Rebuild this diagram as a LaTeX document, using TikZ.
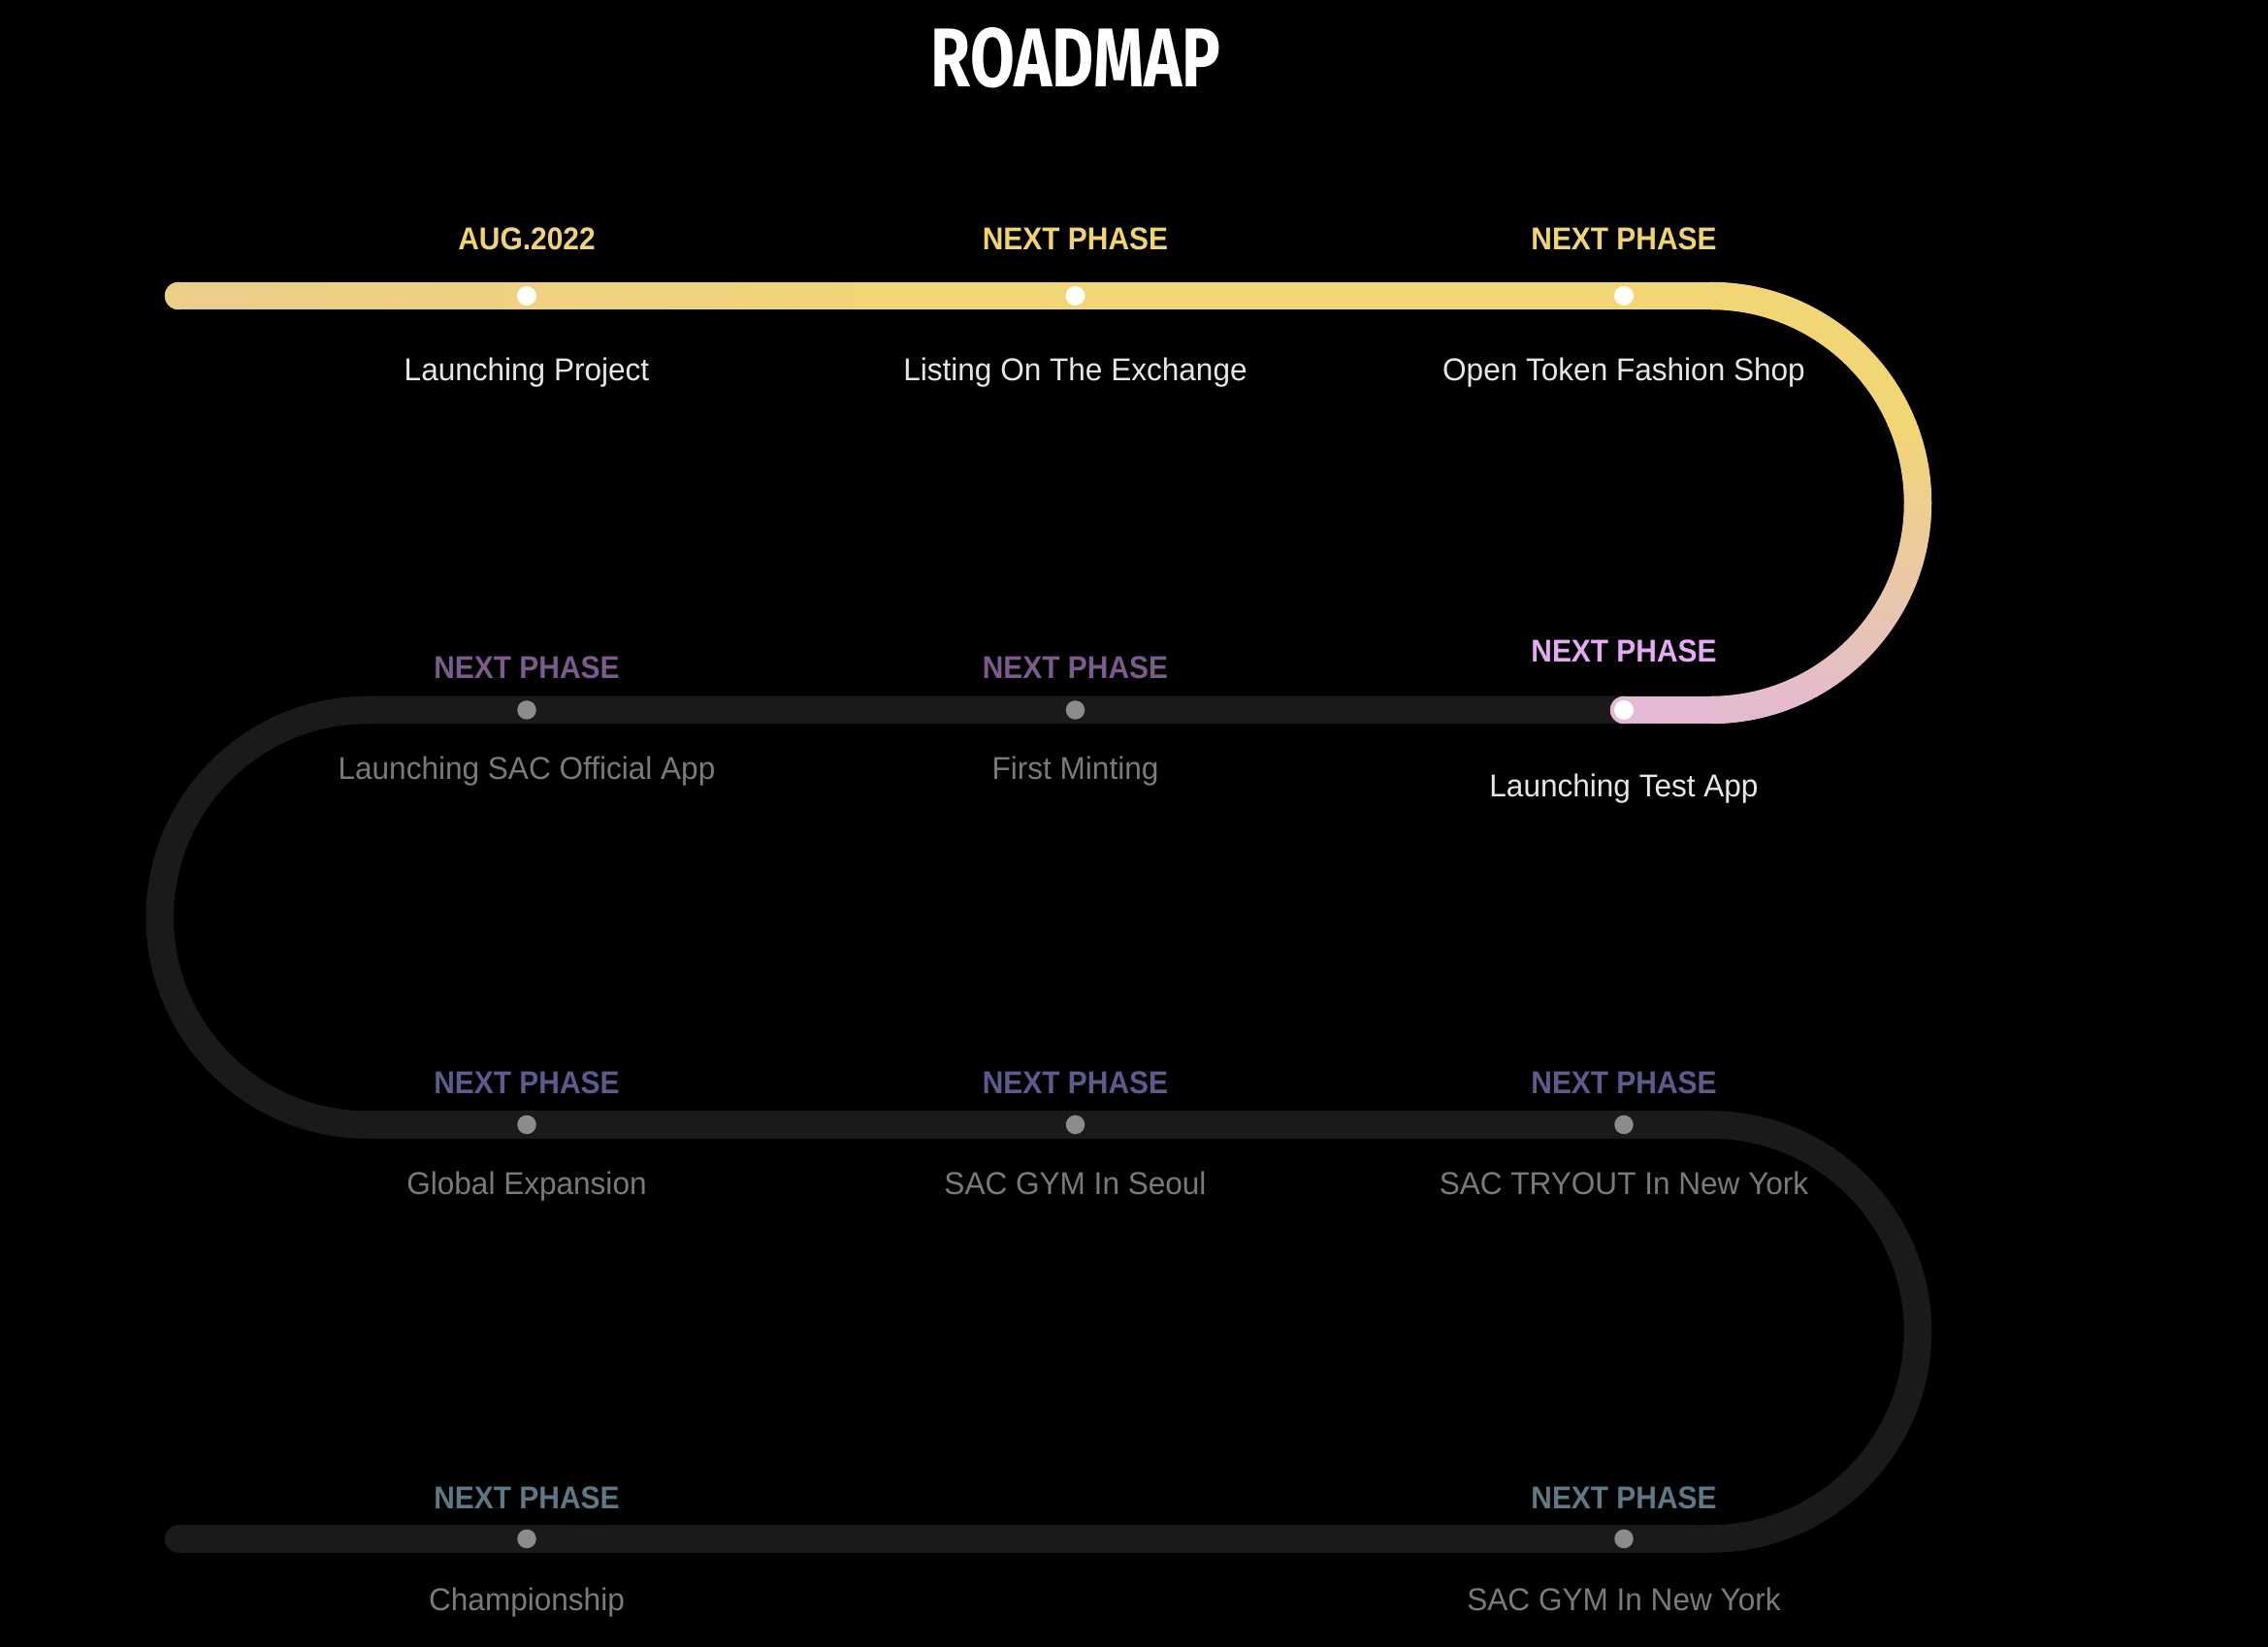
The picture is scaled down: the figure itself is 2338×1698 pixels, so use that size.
\documentclass[tikz,border=0pt]{standalone}
\usepackage{graphicx}
\usepackage{fontspec}
\setmainfont{Liberation Sans}
\newfontfamily\titlefont{Fira Sans}
\definecolor{trackc}{HTML}{1A1A1A}
\definecolor{tanc}{HTML}{ECCD8A}
\definecolor{yellowc}{HTML}{F2D675}
\definecolor{pinkc}{HTML}{E4B9D5}
\definecolor{ylabel}{HTML}{F2D46E}
\definecolor{lilac}{HTML}{E6AAF5}
\definecolor{purp}{HTML}{7B5A8C}
\definecolor{purpblue}{HTML}{5E5A8E}
\definecolor{slate}{HTML}{5E7885}
\definecolor{descon}{HTML}{E6E6E6}
\definecolor{descoff}{HTML}{7A7A7A}
\definecolor{dotgc}{HTML}{8C8C8C}
\newcommand\phs[1]{\scalebox{0.92}[1]{#1}}
\newcommand\dsc[1]{\scalebox{0.97}[1]{#1}}
\tikzset{
  track/.style={draw=trackc, line width=2.85mm, line cap=round},
  doneline/.style={line width=2.85mm, line cap=butt},
  dotw/.style={circle, fill=white, inner sep=0pt, minimum size=2mm},
  dotg/.style={circle, fill=dotgc, inner sep=0pt, minimum size=1.95mm},
  phaselbl/.style={anchor=base, inner sep=0pt, font=\bfseries\fontsize{9.25pt}{11pt}\selectfont},
  desclbl/.style={anchor=base, inner sep=0pt, font=\fontsize{9.25pt}{11pt}\selectfont},
  titlelbl/.style={anchor=base, inner sep=0pt, text=white},
}
\begin{document}
\begin{tikzpicture}[x=0.01cm, y=-0.01cm]
\fill[black] (0,0) rectangle (2338,1698);
\useasboundingbox (0,0) rectangle (2338,1698);

% title
\node[titlelbl] (title) at (1109,90) {\resizebox{2.98cm}{0.61cm}{\titlefont\bfseries ROADMAP}};

% track coordinates
\coordinate (tS) at (184,305);
\coordinate (tA) at (1763.5,305);
\coordinate (tB) at (1763.5,732);
\coordinate (tC) at (378.5,732);
\coordinate (tE) at (1763.5,1159.5);
\coordinate (tG) at (184,1586.5);

% dark track
\draw[track] (tS) -- (tA) arc[start angle=-90, end angle=90, radius=213.5]
  -- (tC) arc[start angle=270, end angle=90, radius=213.75]
  -- (tE) arc[start angle=-90, end angle=90, radius=213.5] -- (tG);

% coloured (completed) part: first row
\draw[doneline, yellowc] (tS) -- (tA);
\foreach \i in {0,...,39}{
  \pgfmathsetmacro\xa{184+\i*21}
  \pgfmathsetmacro\xb{184+\i*21+22}
  \pgfmathsetmacro\pc{100*\i/39}
  \draw[doneline, color=yellowc!\pc!tanc] (\xa,305) -- (\xb,305);
}
\fill[tanc] (tS) circle[radius=14.25];
% bend
\begin{scope}
  \clip (1763.5,290.75) arc[start angle=-90, end angle=90, radius=227.75]
     -- (1763.5,717.75) arc[start angle=90, end angle=-90, radius=199.25] -- cycle;
  \fill[yellowc] (1750,280) rectangle (2000,441);
  \shade[top color=yellowc, bottom color=pinkc] (1750,440) rectangle (2000,750);
\end{scope}
% second row, completed stretch
\coordinate (pS) at (1674,732);
\draw[doneline, pinkc] (pS) -- (tB);
\fill[pinkc] (pS) circle[radius=14.25];

% dots
\node[dotw] (d11) at (543,305) {};
\node[dotw] (d12) at (1108.5,305) {};
\node[dotw] (d13) at (1674,305) {};
\node[dotg] (d21) at (543,732) {};
\node[dotg] (d22) at (1108.5,732) {};
\node[dotw] (d23) at (1674,732) {};
\node[dotg] (d31) at (543,1159.5) {};
\node[dotg] (d32) at (1108.5,1159.5) {};
\node[dotg] (d33) at (1674,1159.5) {};
\node[dotg] (d41) at (543,1586.5) {};
\node[dotg] (d43) at (1674,1586.5) {};

% row 1
\node[phaselbl, text=ylabel] (p11) at (543,258) {\phs{AUG.2022}};
\node[phaselbl, text=ylabel] (p12) at (1108.5,258) {\phs{NEXT PHASE}};
\node[phaselbl, text=ylabel] (p13) at (1674,258) {\phs{NEXT PHASE}};
\node[desclbl, text=descon] (t11) at (543,393) {\dsc{Launching Project}};
\node[desclbl, text=descon] (t12) at (1108.5,393) {\dsc{Listing On The Exchange}};
\node[desclbl, text=descon] (t13) at (1674,393) {\dsc{Open Token Fashion Shop}};

% row 2
\node[phaselbl, text=purp] (p21) at (543,700) {\phs{NEXT PHASE}};
\node[phaselbl, text=purp] (p22) at (1108.5,700) {\phs{NEXT PHASE}};
\node[phaselbl, text=lilac] (p23) at (1674,683) {\phs{NEXT PHASE}};
\node[desclbl, text=descoff] (t21) at (543,804) {\dsc{Launching SAC Official App}};
\node[desclbl, text=descoff] (t22) at (1108.5,804) {\dsc{First Minting}};
\node[desclbl, text=descon] (t23) at (1674,822) {\dsc{Launching Test App}};

% row 3
\node[phaselbl, text=purpblue] (p31) at (543,1128) {\phs{NEXT PHASE}};
\node[phaselbl, text=purpblue] (p32) at (1108.5,1128) {\phs{NEXT PHASE}};
\node[phaselbl, text=purpblue] (p33) at (1674,1128) {\phs{NEXT PHASE}};
\node[desclbl, text=descoff] (t31) at (543,1232) {\dsc{Global Expansion}};
\node[desclbl, text=descoff] (t32) at (1108.5,1232) {\dsc{SAC GYM In Seoul}};
\node[desclbl, text=descoff] (t33) at (1674,1232) {\dsc{SAC TRYOUT In New York}};

% row 4
\node[phaselbl, text=slate] (p41) at (543,1556) {\phs{NEXT PHASE}};
\node[phaselbl, text=slate] (p43) at (1674,1556) {\phs{NEXT PHASE}};
\node[desclbl, text=descoff] (t41) at (543,1661) {\dsc{Championship}};
\node[desclbl, text=descoff] (t43) at (1674,1661) {\dsc{SAC GYM In New York}};
\end{tikzpicture}
\end{document}
